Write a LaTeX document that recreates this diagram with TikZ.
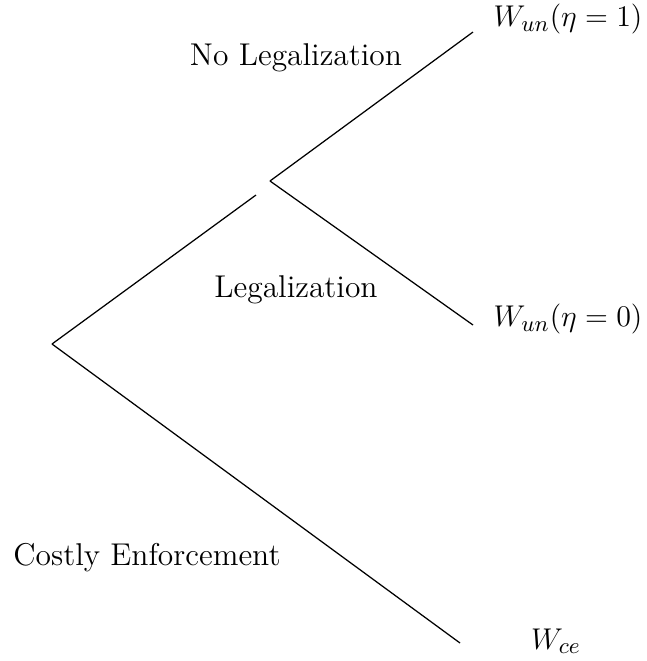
\documentclass[tikz,border=0pt]{standalone}
\begin{document}
\begin{tikzpicture}[x=0.4pt,y=-0.4pt,
  lbl/.style={font=\fontsize{12.6}{15}\selectfont,inner sep=0pt},
  edge/.style={line width=0.5pt}]
\useasboundingbox (0,0) rectangle (647,661);
\coordinate (root) at (52,344);
\coordinate (gap) at (256,195);
\coordinate (br) at (270,181);
\coordinate (e1) at (473,32);
\coordinate (e0) at (473,325);
\coordinate (ece) at (460,643);
\node[lbl] (w1) at (568,19) {$W_{un}(\eta=1)$};
\node[lbl] (w0) at (568,319) {$W_{un}(\eta=0)$};
\node[lbl] (wce) at (556,641) {$W_{ce}$};
\node[lbl] (nl) at (296,58) {No Legalization};
\node[lbl] (lg) at (296,290) {Legalization};
\node[lbl] (ce) at (147,558) {Costly Enforcement};
\draw[edge] (root) -- (gap);
\draw[edge] (root) -- (ece);
\draw[edge] (br) -- (e1);
\draw[edge] (br) -- (e0);
\end{tikzpicture}
\end{document}
